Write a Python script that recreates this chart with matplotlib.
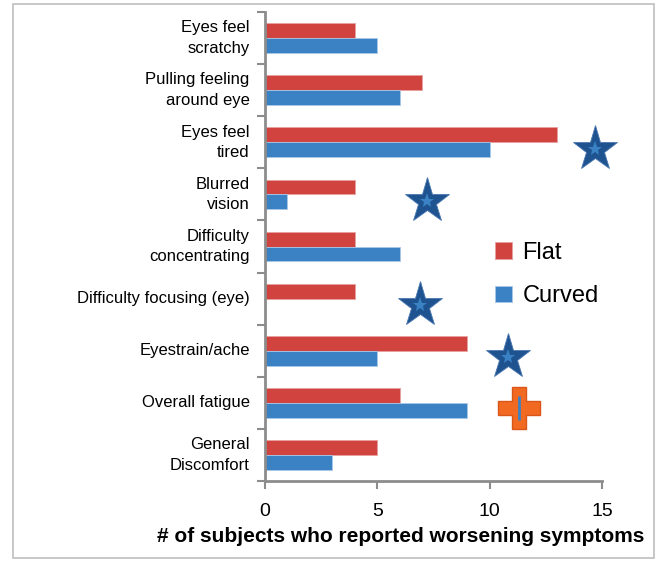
import matplotlib.pyplot as plt
import numpy as np
from matplotlib.patches import Rectangle

#---------------- data ----------------#
symptoms = ["Eyes feel\nscratchy", "Pulling feeling\naround eye", "Eyes feel\ntired",
            "Blurred\nvision", "Difficulty\nconcentrating", "Difficulty focusing (eye)",
            "Eyestrain/ache", "Overall fatigue", "General\nDiscomfort"]
flat = [4, 7, 13, 4, 4, 4, 9, 6, 5]
curved = [5, 6, 10, 1, 6, 0, 5, 9, 3]

# significance markers (value position, category index)
star_x = [14.7, 7.2, 6.9, 10.8]
star_cat = [2, 3, 5, 6]
plus_x = [11.3]
plus_cat = [7]

red = "#D0433E"
blue = "#3A82C4"
dark_blue = "#1E5390"
orange = "#F26A22"
gray = "#8C8C8C"

plt.rcParams['font.family'] = ['Liberation Sans', 'DejaVu Sans']

fig = plt.figure(figsize=(6.7, 5.69), dpi=100)
ax = fig.add_axes([265/670, 1 - 481/569, 337/670, 469/569])

# light frame round the whole chart
fig.patches.append(Rectangle((13/670, 1 - 558/569), 641/670, 554/569,
                             transform=fig.transFigure, fill=False,
                             edgecolor="#BFBFBF", linewidth=1.2))

y = np.arange(len(symptoms))
h = 0.285
ax.barh(y - h/2, flat, height=h, color=red, edgecolor="#E6A09D", linewidth=0.6, label="Flat")
ax.barh(y + h/2, curved, height=h, color=blue, edgecolor="#A9C8E8", linewidth=0.6, label="Curved")

# stars
ax.plot(star_x, [c + 0.12 for c in star_cat], linestyle="none", marker="*", ms=34,
        color=dark_blue, markeredgecolor="#4A78B0", markeredgewidth=0.6, clip_on=False)
ax.plot(star_x, [c + 0.12 for c in star_cat], linestyle="none", marker="*", ms=11,
        color=blue, markeredgewidth=0, clip_on=False)
# plus
ax.plot(plus_x, [c + 0.1 for c in plus_cat], linestyle="none", marker="P", ms=30,
        color=orange, markeredgecolor="#D8561A", markeredgewidth=1, clip_on=False)
ax.plot(plus_x, [c + 0.1 for c in plus_cat], linestyle="none", marker="|", ms=17,
        color=blue, markeredgewidth=2, clip_on=False)

ax.set_xlim(0, 15)
ax.set_ylim(len(symptoms) - 0.5, -0.5)

ax.set_xticks([0, 5, 10, 15])
ax.tick_params(axis="x", labelsize=14, length=6, width=1.5, color=gray, pad=10)
ax.set_yticks(np.arange(len(symptoms) + 1) - 0.5)
ax.set_yticklabels([])
ax.set_yticks(y, minor=True)
ax.set_yticklabels(symptoms, minor=True, fontsize=12, linespacing=1.45, va="center")
ax.tick_params(axis="y", which="major", length=6, width=1.5, color=gray)
ax.tick_params(axis="y", which="minor", length=0, pad=11)

for s in ["top", "right"]:
    ax.spines[s].set_visible(False)
for s in ["left", "bottom"]:
    ax.spines[s].set_color(gray)
    ax.spines[s].set_linewidth(2)

ax.set_xlabel("# of subjects who reported worsening symptoms", fontsize=15,
              fontweight="bold")
ax.xaxis.set_label_coords((401 - 265) / 337, -(527 - 481) / 469)

ax.legend(loc="upper left", bbox_to_anchor=(0.62, 0.555), frameon=False, fontsize=17,
          handlelength=0.7, handleheight=0.7, handletextpad=0.45, labelspacing=0.9)

plt.savefig("out.png", dpi=100)
